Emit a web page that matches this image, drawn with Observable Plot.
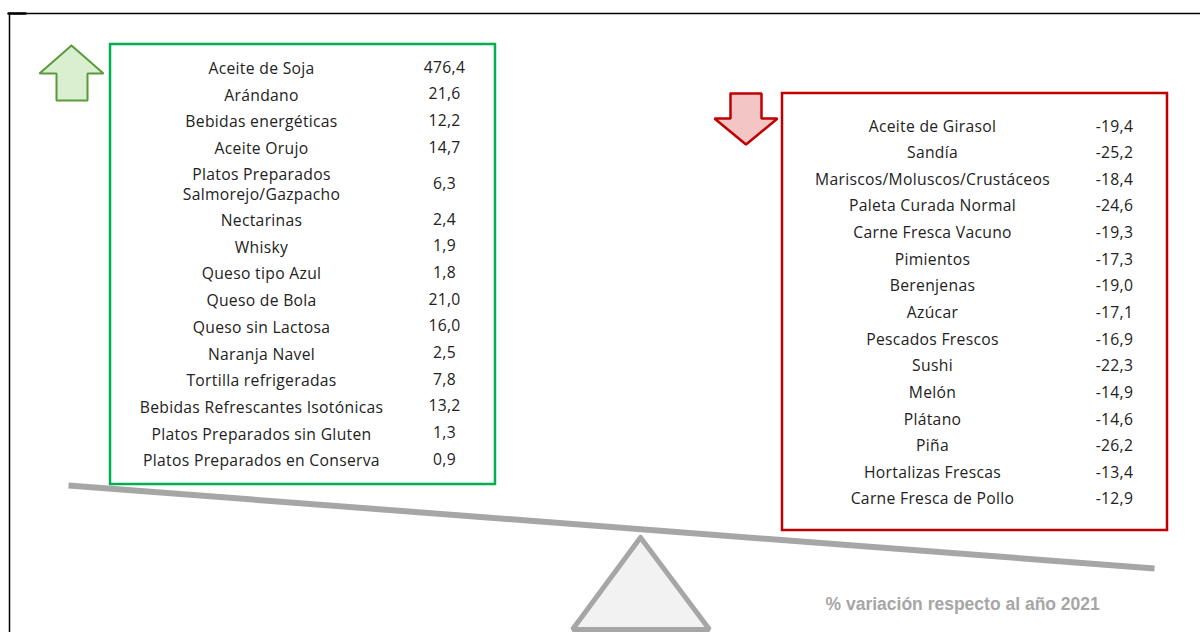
<!DOCTYPE html>
<html>
<head>
<meta charset="utf-8">
<script src="https://cdn.jsdelivr.net/npm/d3@7"></script>
<script src="https://cdn.jsdelivr.net/npm/@observablehq/plot@0.6"></script>
<style>
  html, body { margin: 0; padding: 0; background: #fff; }
  #chart svg { display: block; }
  #chart svg g[font-family*="Open Sans"] { letter-spacing: 0.3px; }
</style>
</head>
<body>
<div id="chart"></div>
<script>
// ---------- data ----------
const upCategories = [
  "Aceite de Soja", "Arándano", "Bebidas energéticas", "Aceite Orujo",
  "Platos Preparados\nSalmorejo/Gazpacho", "Nectarinas", "Whisky", "Queso tipo Azul",
  "Queso de Bola", "Queso sin Lactosa", "Naranja Navel", "Tortilla refrigeradas",
  "Bebidas Refrescantes Isotónicas", "Platos Preparados sin Gluten", "Platos Preparados en Conserva"
];
const upValues = [476.4, 21.6, 12.2, 14.7, 6.3, 2.4, 1.9, 1.8, 21.0, 16.0, 2.5, 7.8, 13.2, 1.3, 0.9];

const downCategories = [
  "Aceite de Girasol", "Sandía", "Mariscos/Moluscos/Crustáceos", "Paleta Curada Normal",
  "Carne Fresca Vacuno", "Pimientos", "Berenjenas", "Azúcar", "Pescados Frescos", "Sushi",
  "Melón", "Plátano", "Piña", "Hortalizas Frescas", "Carne Fresca de Pollo"
];
const downValues = [-19.4, -25.2, -18.4, -24.6, -19.3, -17.3, -19.0, -17.1, -16.9, -22.3, -14.9, -14.6, -26.2, -13.4, -12.9];

const caption = "% variación respecto al año 2021";

// ---------- layout (page units, y downward) ----------
const W = 1200, H = 632;
const upTable   = {nameX: 261, valueX: 444, firstY: 67,  step: 26.7, extraLine: 18.5};
const downTable = {nameX: 932, valueX: 1114, firstY: 126, step: 26.64, extraLine: 18.5};
const upBox   = {x1: 110, x2: 495, y1: 44, y2: 484};
const downBox = {x1: 782, x2: 1167, y1: 93, y2: 530};
const upArrow = [[71,45],[103,73],[87,73],[87,100],[56,100],[56,73],[39,73],[71,45]];
const downArrow = [[730,93],[761,93],[761,118],[777,118],[745.5,144],[714,118],[730,118],[730,93]];
const beam = [[68,485],[1154,568]];
const fulcrum = [[640,537],[709,629],[572,629],[640,537]];
const frameTop = [[9,13],[1200,13]];
const frameLeft = [[9,13],[9,632]];
const captionPos = {x: 825, y: 604};

const esLocale = d3.formatLocale({decimal: ",", thousands: ".", grouping: [3], currency: ["", " €"], minus: "-"});
const fmt = esLocale.format(".1f");

function tableRows(cats, vals, t) {
  const rows = [];
  let cursor = t.firstY - t.step / 2;
  cats.forEach((c, i) => {
    const lines = c.split("\n").length;
    const h = t.step + (lines - 1) * t.extraLine;
    rows.push({name: c, value: vals[i], label: fmt(vals[i]), y: cursor + h / 2, nameX: t.nameX, valueX: t.valueX});
    cursor += h;
  });
  return rows;
}
const upRows = tableRows(upCategories, upValues, upTable);
const downRows = tableRows(downCategories, downValues, downTable);

const pts = a => a.map(([x, y]) => ({x, y}));
const textFont = "'Open Sans', 'Noto Sans', sans-serif";
const fs = 15.7;
const ink = "#222";

const chart = Plot.plot({
  width: W,
  height: H,
  margin: 0,
  x: {domain: [0, W], range: [0, W], axis: null},
  y: {domain: [0, H], range: [0, H], axis: null},
  style: {background: "#fff"},
  marks: [
    // frame
    Plot.line(pts(frameTop), {x: "x", y: "y", stroke: "#000", strokeWidth: 1.5}),
    Plot.line(pts(frameLeft), {x: "x", y: "y", stroke: "#000", strokeWidth: 1.5}),
    Plot.line(pts([[8,13],[25,13]]), {x: "x", y: "y", stroke: "#000", strokeWidth: 2.5}),
    // fulcrum & beam
    Plot.line(pts(fulcrum), {x: "x", y: "y", fill: "#f2f2f2", stroke: "#a6a6a6", strokeWidth: 5, strokeLinejoin: "miter", curve: "linear"}),
    Plot.line(pts(beam), {x: "x", y: "y", stroke: "#a6a6a6", strokeWidth: 6, strokeLinecap: "butt"}),
    // boxes
    Plot.rect([upBox], {x1: "x1", x2: "x2", y1: "y1", y2: "y2", fill: "none", stroke: "#00b050", strokeWidth: 2.5}),
    Plot.rect([downBox], {x1: "x1", x2: "x2", y1: "y1", y2: "y2", fill: "none", stroke: "#c00000", strokeWidth: 2.5}),
    // arrows
    Plot.line(pts(upArrow), {x: "x", y: "y", fill: "#d9efcf", stroke: "#5a9a3a", strokeWidth: 2, strokeLinejoin: "miter"}),
    Plot.line(pts(downArrow), {x: "x", y: "y", fill: "#f3c5c5", stroke: "#c00000", strokeWidth: 2.5, strokeLinejoin: "miter"}),
    // tables
    Plot.text(upRows, {x: "nameX", y: "y", text: "name", fontSize: fs, fontFamily: textFont, fill: ink, lineHeight: 1.3}),
    Plot.text(upRows, {x: "valueX", y: "y", text: "label", fontSize: fs, fontFamily: textFont, fill: ink}),
    Plot.text(downRows, {x: "nameX", y: "y", text: "name", fontSize: fs, fontFamily: textFont, fill: ink}),
    Plot.text(downRows, {x: "valueX", y: "y", text: "label", fontSize: fs, fontFamily: textFont, fill: ink}),
    // caption
    Plot.text([captionPos], {x: "x", y: "y", text: () => caption, textAnchor: "start", fontSize: 17.5, fontWeight: "bold", fontFamily: "'Liberation Sans', Arial, sans-serif", fill: "#a6a6a6"})
  ]
});
document.getElementById("chart").appendChild(chart);
</script>
</body>
</html>
